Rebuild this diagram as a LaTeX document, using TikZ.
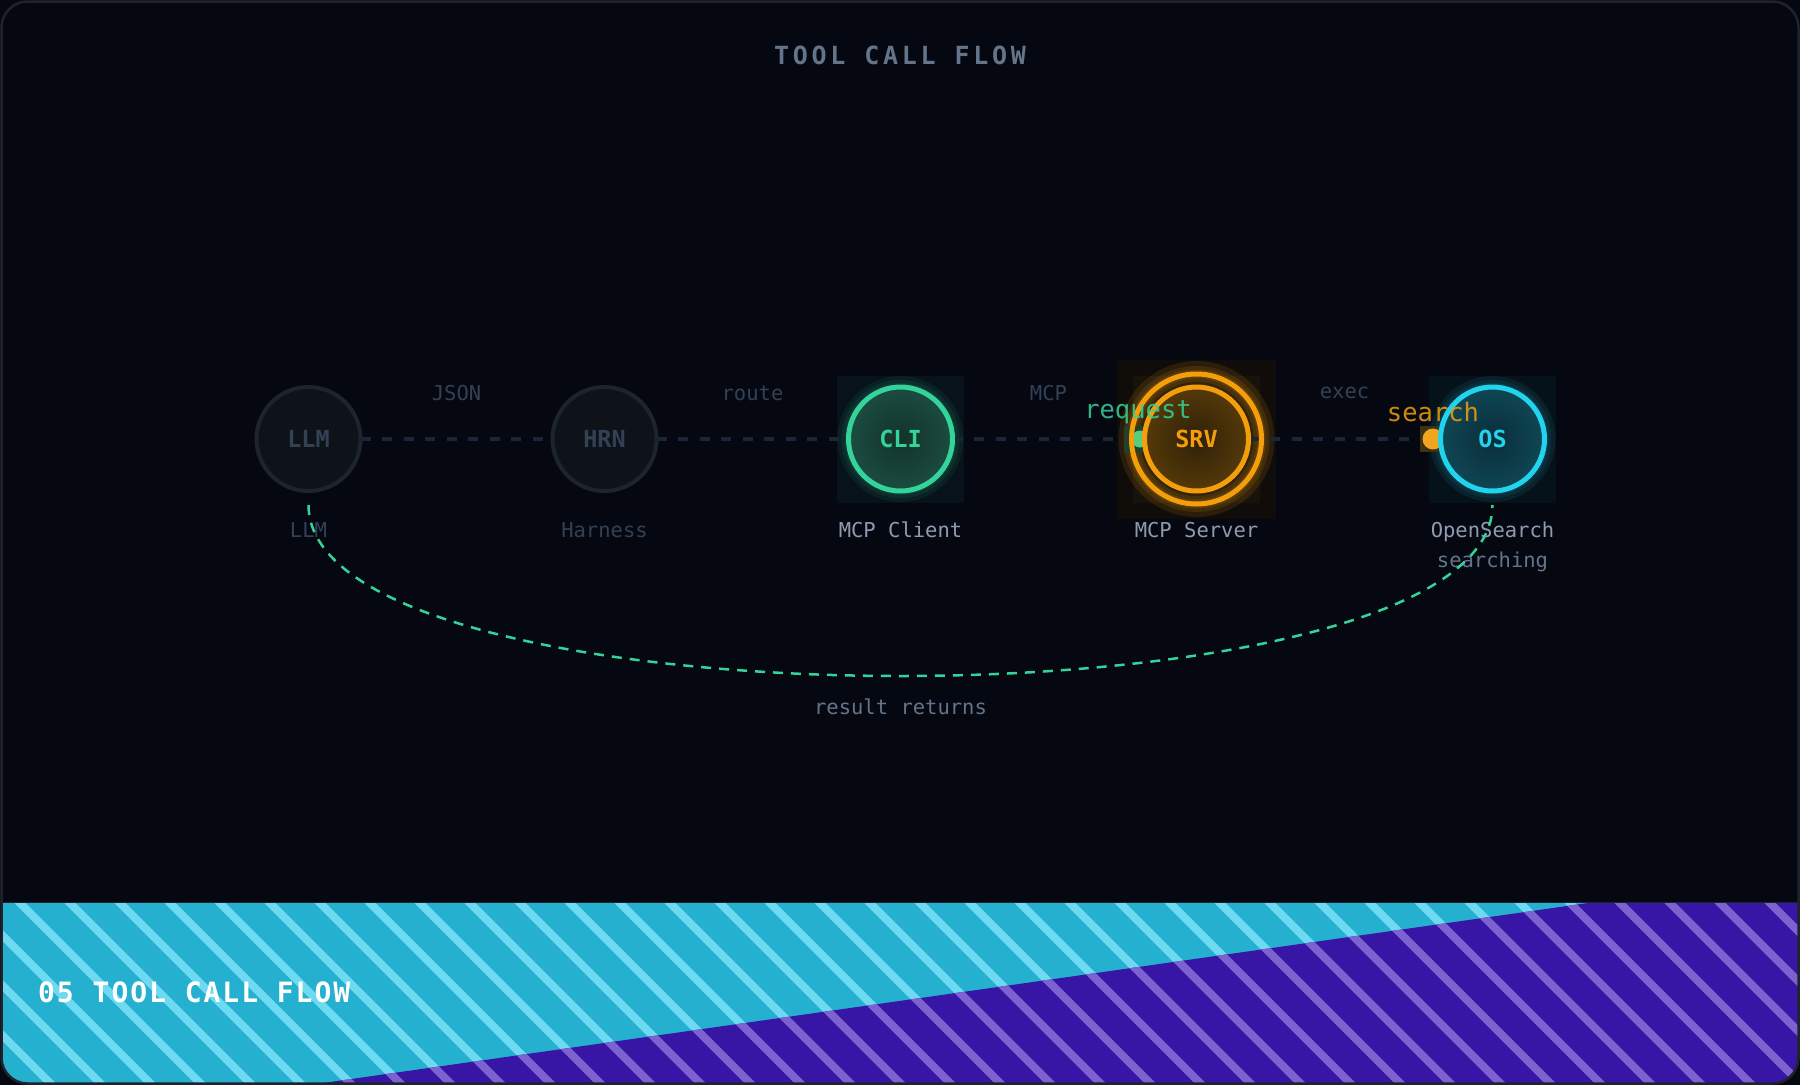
\documentclass[tikz,border=0pt]{standalone}
\usepackage{fontspec}
\setmainfont{DejaVu Sans Mono}
\newfontfamily\headfont[LetterSpace=15]{DejaVu Sans Mono}
\newfontfamily\bandfont[LetterSpace=7]{DejaVu Sans Mono}
\usetikzlibrary{positioning, calc, backgrounds}
\definecolor{bgdark}{HTML}{050810}
\definecolor{framegray}{HTML}{1E232C}
\definecolor{dimring}{HTML}{1C242E}
\definecolor{dimfill}{HTML}{0E1219}
\definecolor{dimtext}{HTML}{334155}
\definecolor{wirecol}{HTML}{1A2638}
\definecolor{midtext}{HTML}{8F9BB0}
\definecolor{subtext}{HTML}{64748B}
\definecolor{cligreen}{HTML}{34D399}
\definecolor{clifillin}{HTML}{133329}
\definecolor{clifillout}{HTML}{1B4C40}
\definecolor{cliglow}{HTML}{07121A}
\definecolor{srvorange}{HTML}{F59E0B}
\definecolor{srvfillin}{HTML}{2E2109}
\definecolor{srvfillout}{HTML}{553909}
\definecolor{srvglow}{HTML}{0F0C0A}
\definecolor{srvglowin}{HTML}{18130A}
\definecolor{oscyan}{HTML}{22D3EE}
\definecolor{osfillin}{HTML}{0A2E3A}
\definecolor{osfillout}{HTML}{0F4654}
\definecolor{osglow}{HTML}{06121A}
\definecolor{dotgreen}{HTML}{56CF7C}
\definecolor{dotgreensq}{HTML}{23402B}
\definecolor{dotorange}{HTML}{F0A51E}
\definecolor{dotorangesq}{HTML}{3D3216}
\definecolor{bandcyan}{HTML}{26B0D0}
\definecolor{stripecyan}{HTML}{6EDAF1}
\definecolor{bandpurple}{HTML}{3716A6}
\definecolor{stripepurple}{HTML}{7C62CF}
\tikzset{
  dimnode/.style  = {circle, draw=dimring, line width=4pt, fill=dimfill,
                     minimum size=104pt, inner sep=0pt, outer sep=0pt, text=dimtext,
                     font=\fontsize{23.5}{28}\selectfont\bfseries},
  clinode/.style  = {circle, draw=cligreen, line width=5pt, inner color=clifillin,
                     outer color=clifillout, minimum size=104pt, inner sep=0pt, outer sep=0pt,
                     text=cligreen, font=\fontsize{23.5}{28}\selectfont\bfseries},
  srvnode/.style  = {circle, draw=srvorange, line width=5pt, inner color=srvfillin,
                     outer color=srvfillout, minimum size=104pt, inner sep=0pt, outer sep=0pt,
                     text=srvorange, font=\fontsize{23.5}{28}\selectfont\bfseries},
  osnode/.style   = {circle, draw=oscyan, line width=5pt, inner color=osfillin,
                     outer color=osfillout, minimum size=104pt, inner sep=0pt, outer sep=0pt,
                     text=oscyan, font=\fontsize{23.5}{28}\selectfont\bfseries},
  lbldim/.style   = {inner sep=0pt, text height=15pt, text depth=4pt, text=dimtext,
                     font=\fontsize{20.5}{24}\selectfont},
  lblmid/.style   = {lbldim, text=midtext},
  lblsub/.style   = {lbldim, text=subtext},
  wire/.style     = {wirecol, line width=4pt, dash pattern=on 10pt off 11.5pt},
  wirelbl/.style  = {midway, yshift=46pt, text=dimtext, font=\fontsize{20.5}{24}\selectfont},
  retwire/.style  = {cligreen, line width=2.5pt, dash pattern=on 10pt off 8pt},
  pktlbl/.style   = {inner sep=0pt, text opacity=0.85, font=\fontsize{25.5}{30}\selectfont},
  stripe/.style   = {line width=8pt},
}

\begin{document}
\begin{tikzpicture}[x=1pt, y=-1pt, node distance=192pt]
    \useasboundingbox (0,0) rectangle (1800,1085);
    % title
    \node[text=subtext, font=\fontsize{25}{30}\selectfont\headfont\bfseries] (title) at (900,55) {TOOL CALL FLOW};

    % the five stations
    \node[dimnode]                 (llm) at (308.5,439) {LLM};
    \node[dimnode, right=of llm]   (hrn) {HRN};
    \node[clinode, right=of hrn]   (cli) {CLI};
    \node[srvnode, right=of cli]   (srv) {SRV};
    \node[osnode,  right=of srv]   (os)  {OS};
    \draw[srvorange, line width=5pt] (srv.center) circle[radius=65];

    \node[lbldim, below=31pt of llm] (llml) {LLM};
    \node[lbldim, below=31pt of hrn] (hrnl) {Harness};
    \node[lblmid, below=31pt of cli] (clil) {MCP Client};
    \node[lblmid, below=31pt of srv] (srvl) {MCP Server};
    \node[lblmid, below=31pt of os]  (osl)  {OpenSearch};
    \node[lblsub, below=11pt of osl] (oss)  {searching};

    \begin{scope}[on background layer]
      \fill[bgdark] (0,0) rectangle (1800,1085);
      % glow boxes
      \fill[cliglow] ($(cli)+(-63.5,-63.5)$) rectangle ($(cli)+(63.5,63.5)$);
      \fill[srvglow] ($(srv)+(-79.5,-79.5)$) rectangle ($(srv)+(79.5,79.5)$);
      \fill[srvglowin] ($(srv)+(-63.5,-63.5)$) rectangle ($(srv)+(63.5,63.5)$);
      \fill[osglow]  ($(os)+(-63.5,-63.5)$) rectangle ($(os)+(63.5,63.5)$);
      \begin{scope}
        \clip ($(cli)+(-63.5,-63.5)$) rectangle ($(cli)+(63.5,63.5)$);
        \foreach \w in {22,14,8} \draw[cligreen, opacity=0.08, line width=\w pt] (cli.center) circle[radius=52];
      \end{scope}
      \begin{scope}
        \clip ($(srv)+(-79.5,-79.5)$) rectangle ($(srv)+(79.5,79.5)$);
        \foreach \w in {26,16,9} \draw[srvorange, opacity=0.12, line width=\w pt] (srv.center) circle[radius=65];
      \end{scope}
      \begin{scope}
        \clip ($(os)+(-63.5,-63.5)$) rectangle ($(os)+(63.5,63.5)$);
        \foreach \w in {22,14,8} \draw[oscyan, opacity=0.08, line width=\w pt] (os.center) circle[radius=52];
      \end{scope}

      \draw[wire] (llm) -- node[wirelbl] {JSON}  (hrn);
      \draw[wire] (hrn) -- node[wirelbl] {route} (cli);
      \draw[wire] (cli) -- node[wirelbl] {MCP}   (srv);
      \draw[wire] (srv) -- node[wirelbl] {exec}  (os);

      % packets
      \fill[dotgreensq] (1124,425.5) rectangle (1151,452.5);
      \fill[dotgreen] (1140,439) circle[radius=8.5];
      \fill[dotorangesq] (1420,426) rectangle (1446,452);
      \fill[dotorange] (1433,439) circle[radius=10.5];
    \end{scope}

    \node[pktlbl, text=cligreen]  (req) at (1138,412) {request};
    \node[pktlbl, text=srvorange] (srch) at (1433,412) {search};

    % result path back
    \draw[retwire] ($(llm.south)+(0,14)$) .. controls +(0,228) and +(0,228) .. ($(os.south)+(0,14)$)
      node[midway, yshift=-31pt, text=subtext, font=\fontsize{20.5}{24}\selectfont] (ret) {result returns};

    % footer band
    \begin{scope}
      \clip[rounded corners=26pt] (1.5,1.5) rectangle (1798.5,1083.5);
      \clip (0,903) rectangle (1800,1085);
      \fill[bandcyan] (0,903) rectangle (1800,1085);
      \foreach \k in {-5,...,36} \draw[stripe, stripecyan] ({17+50*\k},900) -- ++(190,190);
      \clip (1588,903) -- (1800,903) -- (1800,1085) -- (309,1085) -- cycle;
      \fill[bandpurple] (0,903) rectangle (1800,1085);
      \foreach \k in {-5,...,36} \draw[stripe, stripepurple] ({17+50*\k},900) -- ++(190,190);
    \end{scope}
    \draw[framegray, line width=1pt] (2,902.5) -- (1798,902.5);
    \node[anchor=west, inner sep=0pt, text=white, font=\fontsize{28}{32}\selectfont\bandfont\bfseries] (band) at (38,992) {05 TOOL CALL FLOW};

    \draw[framegray, line width=2.5pt, rounded corners=26pt] (1.5,1.5) rectangle (1798.5,1083.5);
  \end{tikzpicture}
\end{document}
